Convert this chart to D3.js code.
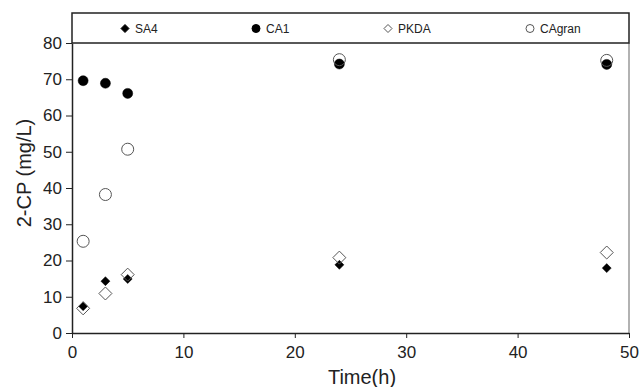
<!doctype html>
<meta charset=utf8>
<title>2-CP vs time</title>
<style>
  body { margin: 0; background: white; }
  svg { display: block; font-family: "Liberation Sans", Arial, sans-serif; }
  .axis path, .axis line { stroke: #222; }
  .axis text { font-size: 17px; fill: #222; }
</style>
<svg width=641 height=387></svg>
<script src=https://d3js.org/d3.v7.min.js></script>
<script>
  // data
  var times = [1, 3, 5, 24, 48];
  var sa4 = [7.4, 14.3, 14.9, 18.8, 17.9];
  var ca1 = [69.6, 68.9, 66.1, 74.2, 74.1];
  var pkda = [6.8, 10.9, 16.1, 20.8, 22.2];
  var cagran = [25.3, 38.2, 50.7, 75.4, 75.2];
  var xTicks = [0, 10, 20, 30, 40, 50];
  var yTicks = [0, 10, 20, 30, 40, 50, 60, 70, 80];

  var series = [
    { name: 'SA4', values: sa4, shape: 'diamond', filled: true, size: 4.5 },
    { name: 'CA1', values: ca1, shape: 'circle', filled: true, size: 5 },
    { name: 'PKDA', values: pkda, shape: 'diamond', filled: false, size: 6.5 },
    { name: 'CAgran', values: cagran, shape: 'circle', filled: false, size: 6 }
  ];

  var svg = d3.select('svg');
  var margin = { top: 43, right: 12, bottom: 54, left: 72 };
  var width = 641 - margin.left - margin.right;
  var height = 387 - margin.top - margin.bottom;
  var g = svg.append('g').attr('transform', 'translate(' + margin.left + ',' + margin.top + ')');

  var x = d3.scaleLinear().domain([0, 50]).range([0, width]);
  var y = d3.scaleLinear().domain([0, 80]).range([height, 0]);

  // frame: right side grey, top dark (legend box bottom)
  g.append('line').attr('x1', width).attr('x2', width).attr('y1', 0).attr('y2', height)
    .attr('stroke', '#999').attr('stroke-width', 1.5);

  // legend box
  var legendTop = 13 - margin.top;
  g.append('rect').attr('x', 0).attr('y', legendTop).attr('width', width).attr('height', -legendTop)
    .attr('fill', 'none').attr('stroke', '#222').attr('stroke-width', 1.5);

  g.append('g')
    .attr('class', 'axis')
    .attr('transform', 'translate(0,' + height + ')')
    .call(d3.axisBottom(x).tickValues(xTicks).tickSize(5).tickPadding(8).tickSizeOuter(0))
    .call(function(a) { a.select('.domain').attr('stroke-width', 1.5); });

  g.append('g')
    .attr('class', 'axis')
    .call(d3.axisLeft(y).tickValues(yTicks).tickSize(6).tickPadding(4).tickSizeOuter(0))
    .call(function(a) { a.select('.domain').attr('stroke-width', 1.5); });

  function symbolPath(s) {
    if (s.shape === 'diamond') {
      var r = s.size;
      return 'M0,' + (-r) + 'L' + r + ',0L0,' + r + 'L' + (-r) + ',0Z';
    }
    return d3.arc()({ innerRadius: 0, outerRadius: s.size, startAngle: 0, endAngle: 2 * Math.PI });
  }

  series.forEach(function(s) {
    g.append('g').selectAll('path')
      .data(s.values)
      .enter()
      .append('path')
      .attr('transform', function(d, i) { return 'translate(' + x(times[i]) + ',' + y(d) + ')'; })
      .attr('d', symbolPath(s))
      .attr('fill', s.filled ? '#000' : 'none')
      .attr('stroke', s.filled ? '#000' : '#555')
      .attr('stroke-width', s.filled ? 0.5 : 1);
  });

  // legend entries
  var legendX = [53, 184, 316, 458];
  var legendY = legendTop / 2 + 0.5;
  series.forEach(function(s, i) {
    var lg = g.append('g').attr('transform', 'translate(' + legendX[i] + ',' + legendY + ')');
    var ls = Object.assign({}, s, { size: 4 });
    lg.append('path').attr('d', symbolPath(ls))
      .attr('fill', s.filled ? '#000' : 'none')
      .attr('stroke', s.filled ? '#000' : '#555');
    lg.append('text').attr('x', 10).attr('dy', '0.35em')
      .style('font-size', '12px').attr('fill', '#222').text(s.name);
  });

  svg.append('text')
    .attr('x', 362)
    .attr('y', 384)
    .attr('text-anchor', 'middle')
    .style('font-size', '20px').attr('fill', '#222')
    .text('Time(h)');

  svg.append('text')
    .attr('transform', 'translate(31,173) rotate(-90)')
    .attr('text-anchor', 'middle')
    .style('font-size', '20px').attr('fill', '#222')
    .text('2-CP (mg/L)');
</script>
